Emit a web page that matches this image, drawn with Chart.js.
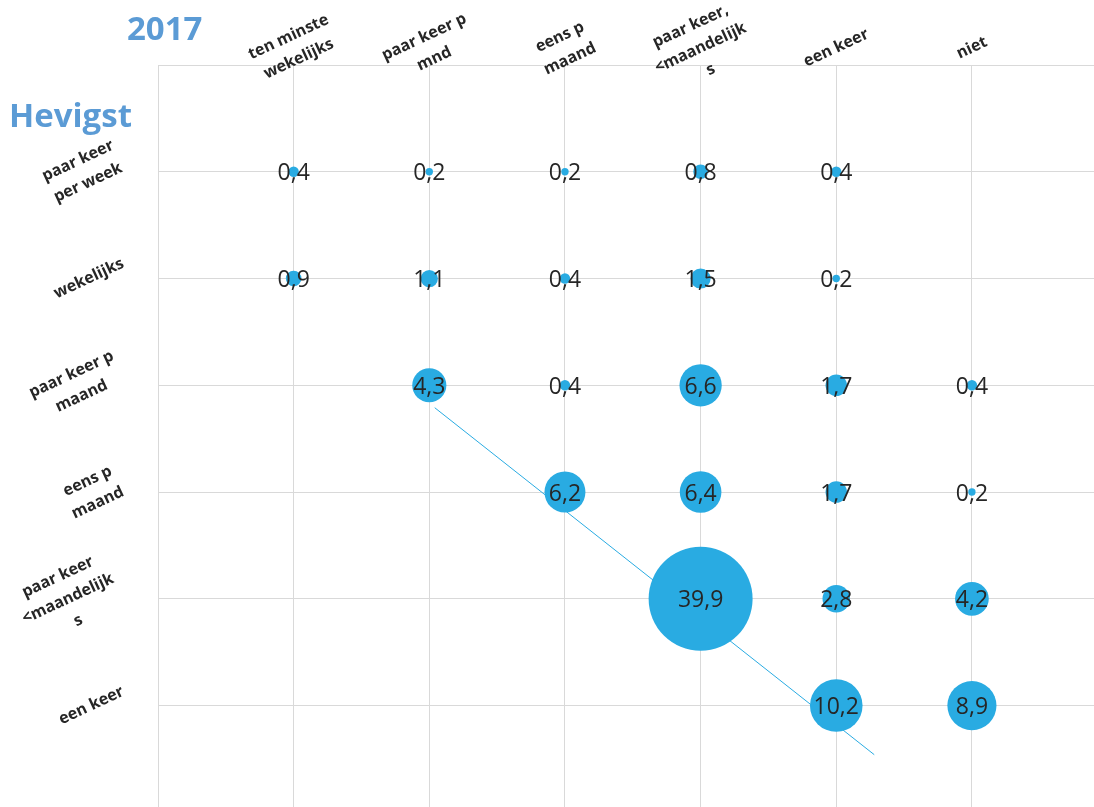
<!DOCTYPE html>
<html>
<head>
<meta charset="utf-8">
<script src="https://cdn.jsdelivr.net/npm/chart.js@4"></script>
<style>
  body { margin: 0; background: #fff; }
</style>
</head>
<body>
<canvas id="bubbles" width="1094" height="807"></canvas>
<script>
window.chartColors = {
    bubble : "#29ABE2",
    title  : "#5B9BD5",
    grid   : "#D9D9D9",
    text   : "#262626"
};

// columns (top) and rows (left)
var colLabels = [
    ["ten minste", "wekelijks"],
    ["paar keer p", "mnd"],
    ["eens p", "maand"],
    ["paar keer,", "<maandelijk", "s"],
    ["een keer"],
    ["niet"]
];
var rowLabels = [
    ["paar keer", "per week"],
    ["wekelijks"],
    ["paar keer p", "maand"],
    ["eens p", "maand"],
    ["paar keer", "<maandelijk", "s"],
    ["een keer"]
];

// percentages, one array per row, null = empty cell
var row1 = [0.4, 0.2, 0.2, 0.8, 0.4, null];
var row2 = [0.9, 1.1, 0.4, 1.5, 0.2, null];
var row3 = [null, 4.3, 0.4, 6.6, 1.7, 0.4];
var row4 = [null, null, 6.2, 6.4, 1.7, 0.2];
var row5 = [null, null, null, 39.9, 2.8, 4.2];
var row6 = [null, null, null, null, 10.2, 8.9];

// trend line end points (column, row)
var trendX = [2.04, 5.28];
var trendY = [3.21, 6.46];

var rows = [row1, row2, row3, row4, row5, row6];
var bubbleData = [];
rows.forEach(function(row, r) {
    row.forEach(function(v, c) {
        if (v !== null) {
            bubbleData.push({x: c + 1, y: r + 1, r: 8.23 * Math.sqrt(v), v: v});
        }
    });
});

function drawBlock(ctx, lines, cx, cy, angle, lineH) {
    ctx.save();
    ctx.translate(cx, cy);
    ctx.rotate(-angle);
    ctx.textAlign = "center";
    ctx.textBaseline = "middle";
    lines.forEach(function(l, i) {
        ctx.fillText(l, 0, (i - (lines.length - 1) / 2) * lineH);
    });
    ctx.restore();
}

var labelPlugin = {
    id: 'labels',
    afterDatasetsDraw: function(chart) {
        var ctx = chart.ctx;
        var meta = chart.getDatasetMeta(1);
        ctx.save();
        ctx.font = "23px 'Open Sans'";
        ctx.fillStyle = window.chartColors.text;
        ctx.textAlign = "center";
        ctx.textBaseline = "middle";
        meta.data.forEach(function(el, i) {
            var v = bubbleData[i].v;
            ctx.fillText(v.toFixed(1).replace(".", ","), el.x, el.y + 2);
        });
        ctx.restore();
    },
    afterDraw: function(chart) {
        var ctx = chart.ctx;
        var xs = chart.scales.x, ys = chart.scales.y;
        var angle = 25 * Math.PI / 180;
        var lineH = 24;
        ctx.save();
        ctx.fillStyle = window.chartColors.text;
        ctx.font = "bold 16px 'Open Sans'";
        colLabels.forEach(function(lines, i) {
            drawBlock(ctx, lines, xs.getPixelForValue(i + 1), 48, angle, lineH);
        });
        rowLabels.forEach(function(lines, i) {
            var w = 0;
            lines.forEach(function(l) { w = Math.max(w, ctx.measureText(l).width); });
            var h = lines.length * lineH;
            var bw = w * Math.cos(angle) + h * Math.sin(angle);
            drawBlock(ctx, lines, 128 - bw / 2, ys.getPixelForValue(i + 1), angle, lineH);
        });
        ctx.fillStyle = window.chartColors.title;
        ctx.textAlign = "left";
        ctx.textBaseline = "alphabetic";
        ctx.font = "bold 33px 'Open Sans'";
        ctx.fillText("2017", 127, 40);
        ctx.fillText("Hevigst", 9, 127);
        ctx.restore();
    }
};

function gridColor(c) {
    return Number.isInteger(c.tick.value) ? window.chartColors.grid : 'transparent';
}

var bubbleConfig = {
    type: 'bubble',
    data: {
        datasets: [{
            type: 'line',
            data: trendX.map(function(x, i) { return {x: x, y: trendY[i]}; }),
            borderColor: window.chartColors.bubble,
            borderWidth: 1,
            pointRadius: 0,
            fill: false,
            order: 2
        }, {
            data: bubbleData,
            backgroundColor: window.chartColors.bubble,
            borderWidth: 0,
            order: 1
        }]
    },
    options: {
        responsive: false,
        animation: false,
        layout: {
            autoPadding: false,
            padding: {left: 158, top: 65, right: 0, bottom: 0}
        },
        plugins: {
            legend: { display: false },
            tooltip: { enabled: false }
        },
        scales: {
            x: {
                type: 'linear',
                min: 0,
                max: 6.9,
                ticks: { display: false, stepSize: 1 },
                grid: { color: gridColor, drawTicks: false },
                border: { display: false }
            },
            y: {
                type: 'linear',
                reverse: true,
                min: 0,
                max: 6.95,
                ticks: { display: false, stepSize: 1 },
                grid: { color: gridColor, drawTicks: false },
                border: { display: false }
            }
        }
    },
    plugins: [labelPlugin]
};

window.onload = function() {
    var ctx = document.getElementById("bubbles").getContext("2d");
    window.bubbleChart = new Chart(ctx, bubbleConfig);
};
</script>
</body>
</html>
